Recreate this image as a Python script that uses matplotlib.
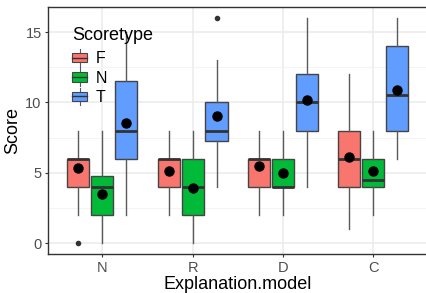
import matplotlib
matplotlib.use("Agg")
import matplotlib.pyplot as plt
from matplotlib.patches import Rectangle
from matplotlib.lines import Line2D
from matplotlib.legend_handler import HandlerBase

plt.rcParams['font.family'] = ['Liberation Sans', 'DejaVu Sans']

# Data (rows: Scoretype F, N, T; columns: Explanation.model N, R, D, C)
models = ['N', 'R', 'D', 'C']
scoretypes = ['F', 'N', 'T']
colors = ['#F8766D', '#00BA38', '#619CFF']

q1 = [[4, 4, 4, 4], [2, 2, 4, 4], [6, 7.25, 8, 8]]
medians = [[6, 6, 6, 6], [4, 4, 4, 4.5], [8, 8, 10, 10.5]]
q3 = [[6, 6, 6, 8], [4.75, 6, 6, 6], [11.5, 10, 12, 14]]
whisk_lo = [[2, 2, 2, 1], [0, 0, 2, 2], [2, 4, 4, 6]]
whisk_hi = [[8, 8, 8, 12], [8, 8, 8, 8], [15, 13, 16, 16]]
means = [[5.3, 5.1, 5.45, 6.1], [3.5, 3.9, 5.0, 5.1], [8.55, 9.0, 10.2, 10.9]]
outliers = [[[0], [], [], []], [[], [], [], []], [[], [16], [], []]]

fig = plt.figure(figsize=(4.27, 2.93), dpi=100)
ax = fig.add_axes([48 / 427, 1 - 254.3 / 293, 379.6 / 427, 247.6 / 293])

offsets = [-0.265, 0, 0.265]
for i, st in enumerate(scoretypes):
    stats = []
    for j in range(len(models)):
        stats.append(dict(med=medians[i][j], q1=q1[i][j], q3=q3[i][j],
                          whislo=whisk_lo[i][j], whishi=whisk_hi[i][j],
                          fliers=outliers[i][j], mean=means[i][j]))
    pos = [j + 1 + offsets[i] for j in range(len(models))]
    ax.bxp(stats, positions=pos, widths=0.245, patch_artist=True,
           showmeans=True, showcaps=False, manage_ticks=False,
           boxprops=dict(facecolor=colors[i], edgecolor='#444444', linewidth=1.0),
           whiskerprops=dict(color='#5a5a5a', linewidth=1.0),
           medianprops=dict(color='#333333', linewidth=2.0),
           meanprops=dict(marker='o', markerfacecolor='black', markeredgecolor='black',
                          markersize=6.5),
           flierprops=dict(marker='o', markerfacecolor='#333333', markeredgecolor='#333333',
                           markersize=3),
           zorder=3)

ax.set_xlim(0.4, 4.6)
ax.set_ylim(-0.8, 16.8)
ax.set_xticks(range(1, len(models) + 1))
ax.set_xticklabels(models)
ax.set_yticks([0, 5, 10, 15])
ax.set_yticks([2.5, 7.5, 12.5], minor=True)
ax.grid(which='major', color='#EBEBEB', linewidth=1.1, zorder=0)
ax.grid(which='minor', axis='y', color='#F2F2F2', linewidth=0.6, zorder=0)
ax.set_axisbelow(True)
for sp in ax.spines.values():
    sp.set_color('#333333')
    sp.set_linewidth(1.0)
ax.tick_params(which='major', length=2.5, color='#333333', labelcolor='#4D4D4D',
               labelsize=10.5, pad=2)
ax.tick_params(which='minor', length=0)
ax.set_xlabel('Explanation.model', fontsize=13, labelpad=1)
ax.set_ylabel('Score', fontsize=13, labelpad=3)


class BoxHandler(HandlerBase):
    def create_artists(self, legend, orig_handle, xdescent, ydescent,
                       width, height, fontsize, trans):
        x0, y0 = -xdescent, -ydescent
        cx = x0 + width / 2
        fc = orig_handle.get_facecolor()
        w1 = Line2D([cx, cx], [y0 - height * 0.25, y0 + height * 0.1],
                    color='#5a5a5a', lw=0.8, transform=trans)
        w2 = Line2D([cx, cx], [y0 + height * 0.9, y0 + height * 1.25],
                    color='#5a5a5a', lw=0.8, transform=trans)
        rect = Rectangle((x0, y0 + height * 0.1), width, height * 0.8,
                         facecolor=fc, edgecolor='#444444', lw=0.8, transform=trans)
        med = Line2D([x0, x0 + width], [y0 + height / 2] * 2,
                     color='#333333', lw=1.0, transform=trans)
        return [w1, w2, rect, med]


handles = [Rectangle((0, 0), 1, 1, facecolor=c) for c in colors]
leg = ax.legend(handles, scoretypes, title='Scoretype', loc='upper left',
                bbox_to_anchor=(72 / 427, 1 - 27 / 293), bbox_transform=fig.transFigure,
                frameon=False, fontsize=11.5, title_fontsize=13, borderpad=0,
                handlelength=0.95, handleheight=0.75, handletextpad=0.55,
                labelspacing=0.27, borderaxespad=0, alignment='left',
                handler_map={Rectangle: BoxHandler()})
leg._legend_box.sep = 5.3

fig.savefig('out.png', dpi=100)
